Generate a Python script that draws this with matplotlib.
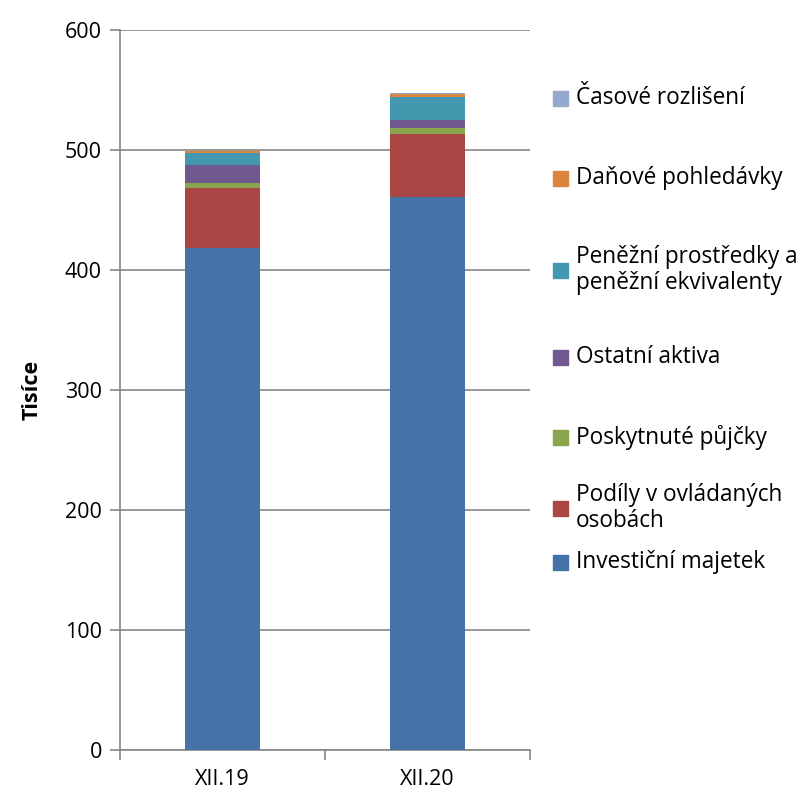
import matplotlib
matplotlib.use("Agg")
from matplotlib import pyplot as plt
import matplotlib.patches as mpatches
import numpy as np

plt.rcParams['font.family'] = ['Open Sans', 'DejaVu Sans']

categories = ['XII.19', 'XII.20']
series_names = ['Investiční majetek', 'Podíly v ovládaných\nosobách', 'Poskytnuté půjčky',
                'Ostatní aktiva', 'Peněžní prostředky a\npeněžní ekvivalenty',
                'Daňové pohledávky', 'Časové rozlišení']
investicni = [418.1, 460.6]
podily = [50.5, 53.0]
pujcky = [4.2, 4.5]
ostatni = [14.7, 7.2]
penezni = [10.3, 19.2]
danove = [1.4, 2.3]
casove = [0.3, 0.8]
colors = ['#4572A7', '#AA4643', '#89A54E', '#71588F', '#4198AF', '#DB843D', '#93A9CF']

values = [investicni, podily, pujcky, ostatni, penezni, danove, casove]

fig = plt.figure(figsize=(8.04, 7.95), dpi=100)
ax = fig.add_axes([120/804, 1 - 750/795, 410/804, 720/795])

x = np.arange(len(categories))
bottom = np.zeros(len(categories))
for vals, c in zip(values, colors):
    ax.bar(x, vals, width=0.37, bottom=bottom, color=c, zorder=3)
    bottom += np.array(vals)

ax.set_xlim(-0.5, 1.5)
ax.set_ylim(0, 600)
ax.set_yticks(range(0, 601, 100))
ax.yaxis.grid(True, color='#868686', linewidth=1.2, zorder=0)
ax.set_xticks([-0.5, 0.5, 1.5], minor=False)
ax.set_xticklabels([])
ax.set_xticks(x, minor=True)
ax.set_xticklabels(categories, minor=True)
ax.tick_params(axis='x', which='minor', length=0, labelsize=15.5, pad=14)
ax.tick_params(axis='x', which='major', length=7, color='#868686', width=1.2)
ax.tick_params(axis='y', length=7, color='#868686', width=1.2, labelsize=15.5, pad=6)
for s in ['top', 'right']:
    ax.spines[s].set_visible(False)
for s in ['left', 'bottom']:
    ax.spines[s].set_color('#868686')
    ax.spines[s].set_linewidth(1.2)
ax.set_ylabel('Tisíce', fontsize=15.5, fontweight='bold', labelpad=16)

# legend, top to bottom (reversed series order)
legend_y = [98, 178, 270, 357, 437, 508, 562]
for name, c, yy in zip(series_names[::-1], colors[::-1], legend_y):
    fig.patches.append(mpatches.Rectangle((553/804, 1 - (yy + 8)/795), 15/804, 15/795,
                                          transform=fig.transFigure, color=c))
    fig.text(576/804, 1 - yy/795, name, fontsize=16.3, va='center', ha='left',
             linespacing=1.15)

fig.savefig('out.png', dpi=100)
